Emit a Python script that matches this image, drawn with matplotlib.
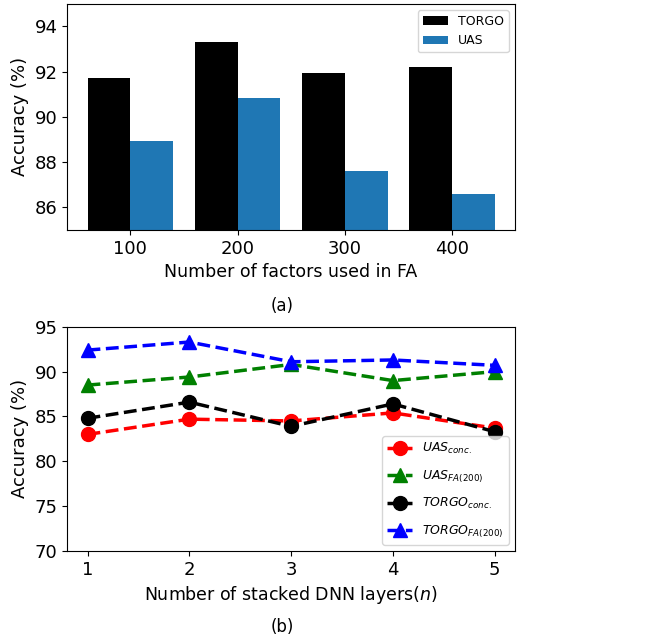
import numpy as np
import matplotlib.pyplot as plt

# (a) accuracy vs number of FA factors
factors = ['100', '200', '300', '400']
torgo_fa = [91.7, 93.3, 91.95, 92.2]
uas_fa = [88.95, 90.85, 87.6, 86.6]

# (b) accuracy vs stacked DNN layers
layers = [1, 2, 3, 4, 5]
uas_conc = [83.0, 84.7, 84.5, 85.4, 83.7]
uas_fa200 = [88.5, 89.4, 90.8, 89.0, 90.0]
torgo_conc = [84.8, 86.6, 83.9, 86.4, 83.3]
torgo_fa200 = [92.4, 93.3, 91.1, 91.3, 90.7]

fig = plt.figure(figsize=(6.52, 6.37), dpi=100)
ax1 = fig.add_axes([0.103, 0.639, 0.687, 0.355])
ax2 = fig.add_axes([0.103, 0.135, 0.687, 0.352])

x = np.arange(len(factors))
ax1.bar(x - 0.4, torgo_fa, width=0.4, align='edge', color='black', label='TORGO')
ax1.bar(x, uas_fa, width=0.4, align='edge', color='#1f77b4', label='UAS')
ax1.set_ylim(85, 95)
ax1.set_yticks([86, 88, 90, 92, 94])
ax1.set_xticks(x)
ax1.set_xticklabels(factors)
ax1.tick_params(labelsize=13)
ax1.set_ylabel('Accuracy (%)', fontsize=13)
ax1.set_xlabel('Number of factors used in FA', fontsize=12.5)
ax1.legend(loc='upper right', fontsize=9)
fig.text(0.433, 0.52, '(a)', ha='center', va='center', fontsize=12)

ax2.plot(layers, uas_conc, 'o--', color='red', lw=2.5, ms=10, label=r'$UAS_{conc.}$')
ax2.plot(layers, uas_fa200, '^--', color='green', lw=2.5, ms=10, label=r'$UAS_{FA(200)}$')
ax2.plot(layers, torgo_conc, 'o--', color='black', lw=2.5, ms=10, label=r'$TORGO_{conc.}$')
ax2.plot(layers, torgo_fa200, '^--', color='blue', lw=2.5, ms=10, label=r'$TORGO_{FA(200)}$')
ax2.set_ylim(70, 95)
ax2.set_xlim(0.8, 5.2)
ax2.set_xticks(layers)
ax2.tick_params(labelsize=13)
ax2.set_ylabel('Accuracy (%)', fontsize=13)
ax2.set_xlabel('Number of stacked DNN layers($n$)', fontsize=12.5)
ax2.legend(loc='lower right', fontsize=9, labelspacing=0.95)
fig.text(0.433, 0.016, '(b)', ha='center', va='center', fontsize=12)

fig.savefig('out.png', dpi=100)
